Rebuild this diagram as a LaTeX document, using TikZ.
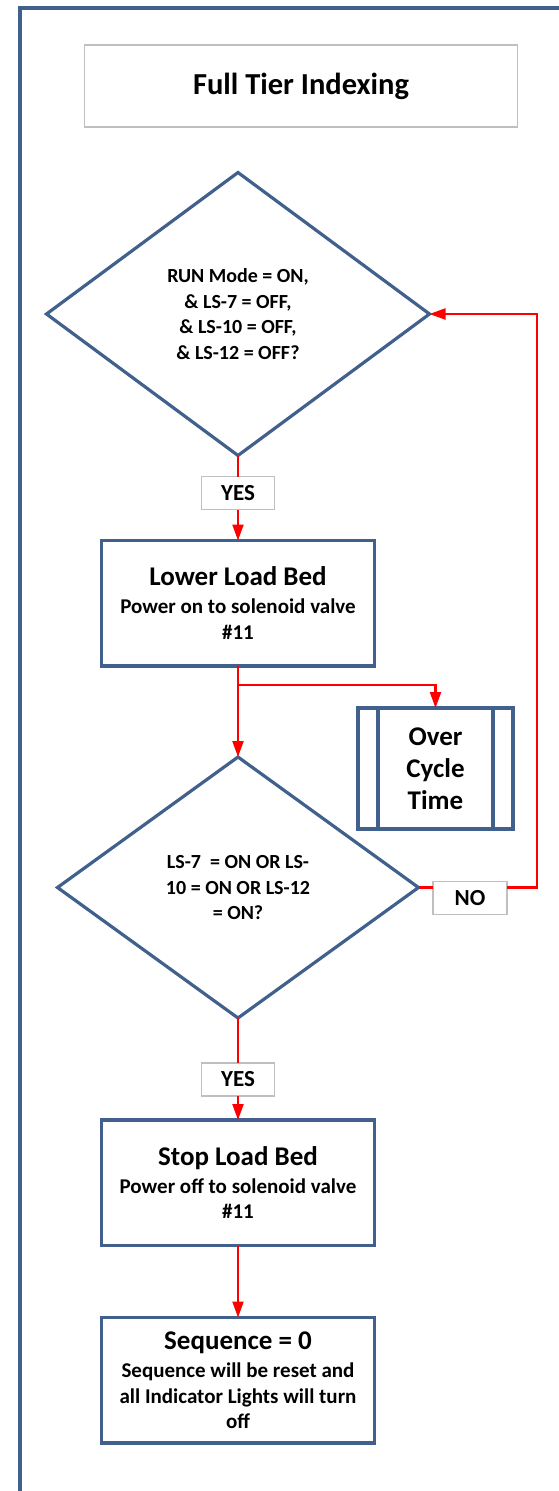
\documentclass[tikz,border=0pt]{standalone}
\usepackage{fontspec}
\setmainfont{Carlito}
\usepackage{xcolor}
\usepackage{tikz}
\usetikzlibrary{shapes.geometric, arrows.meta, positioning}
\definecolor{flowblue}{HTML}{41618C}
\definecolor{labelgray}{HTML}{BFBFBF}
\definecolor{flowred}{HTML}{FF0000}
\newcommand{\headfont}{\fontsize{27}{31}\selectfont}
\newcommand{\subfont}{\fontsize{21}{25.5}\selectfont}
\tikzstyle{process} = [rectangle, draw=flowblue, line width=3.2pt, fill=white, align=center, font=\bfseries\subfont, inner sep=2pt, outer sep=0pt, minimum width=273pt, minimum height=125.5pt]
\tikzstyle{decision} = [diamond, draw=flowblue, line width=3.2pt, fill=white, align=center, font=\bfseries\fontsize{20}{25.5}\selectfont, inner sep=0pt, outer sep=0pt]
\tikzstyle{tag} = [rectangle, draw=labelgray, line width=1.5pt, fill=white, outer sep=0pt, minimum width=73pt, minimum height=33pt, font=\bfseries\fontsize{23}{27}\selectfont]
\tikzstyle{arrow} = [flowred, line width=2.2pt, -{Triangle[length=16pt, width=11pt]}]
\tikzstyle{link} = [flowred, line width=2.2pt]
\begin{document}
\begin{tikzpicture}[x=1pt, y=-1pt]
  \useasboundingbox (0,0) rectangle (559,1491);
  % frame
  \draw[flowblue, line width=3.2pt] (20,1491) -- (20,8) -- (559,8);
  \node[rectangle, draw=labelgray, line width=1.8pt, minimum width=433pt, minimum height=82pt, font=\bfseries\fontsize{30.5}{35}\selectfont] (title) at (301,86) {Full Tier Indexing};
  \node[decision, minimum width=383pt, minimum height=283pt] (check) at (238,314)
    {RUN Mode = ON,\\ \& LS-7 = OFF,\\ \& LS-10 = OFF,\\ \& LS-12 = OFF?};
  \node[tag, below=21pt of check] (yes1) {YES};
  \node[process, below=31pt of yes1] (lower) {{\headfont Lower Load Bed}\\[2.5pt] Power on to solenoid valve\\ \#11};
  \node[decision, minimum width=361pt, minimum height=261pt, below=91pt of lower] (limit)
    {LS-7~ = ON OR LS-\\ 10 = ON OR LS-12\\ = ON?};
  \node[process, minimum width=155pt, minimum height=121pt, font=\bfseries\fontsize{27}{32}\selectfont] (over) at (435.5,768.5) {Over\\ Cycle\\ Time};
  \draw[flowblue, line width=3.2pt] ([xshift=20pt]over.north west) -- ([xshift=20pt]over.south west);
  \draw[flowblue, line width=3.2pt] ([xshift=-20pt]over.north east) -- ([xshift=-20pt]over.south east);
  \node[tag, minimum width=74pt] (no) at (470,898) {NO};
  \node[tag, below=45pt of limit] (yes2) {YES};
  \node[process, below=24pt of yes2] (stop) {{\headfont Stop Load Bed}\\[2.5pt] Power off to solenoid valve\\ \#11};
  \node[process, below=72pt of stop] (reset) {{\headfont Sequence = 0}\\[2.5pt] Sequence will be reset and\\ all Indicator Lights will turn\\ off};
  \draw[link] (check) -- (yes1);
  \draw[arrow] (yes1) -- (lower);
  \draw[arrow] (lower) -- (limit);
  \draw[arrow] (lower.south) -- ++(0,19) -| (over.north);
  \draw[link] (limit.east) -- (limit.east -| no.west);
  \draw[arrow] (no.east |- limit.east) -- ++(30,0) |- (check.east);
  \draw[link] (limit) -- (yes2);
  \draw[arrow] (yes2) -- (stop);
  \draw[arrow] (stop) -- (reset);
\end{tikzpicture}
\end{document}
